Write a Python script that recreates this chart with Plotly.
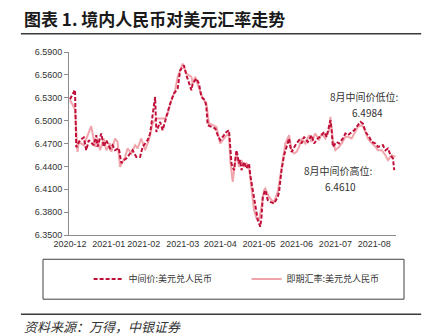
import plotly.graph_objects as go

# ---- data ----
cp_dates = ["2020-12-31","2021-01-04","2021-01-05","2021-01-08","2021-01-11","2021-01-13","2021-01-15","2021-01-19",
"2021-01-21","2021-01-22","2021-01-25","2021-01-27","2021-01-29","2021-02-01","2021-02-03","2021-02-05","2021-02-08",
"2021-02-10","2021-02-12","2021-02-14","2021-02-17","2021-02-19","2021-02-22","2021-02-25","2021-02-27","2021-03-03",
"2021-03-05","2021-03-09","2021-03-10","2021-03-13","2021-03-15","2021-03-18","2021-03-21","2021-03-24","2021-03-27",
"2021-03-29","2021-04-01","2021-04-03","2021-04-06","2021-04-07","2021-04-08","2021-04-11","2021-04-13","2021-04-15",
"2021-04-18","2021-04-19","2021-04-20","2021-04-23","2021-04-26","2021-04-28","2021-04-30","2021-05-03","2021-05-05",
"2021-05-07","2021-05-08","2021-05-09","2021-05-11","2021-05-13","2021-05-15","2021-05-16","2021-05-17","2021-05-19",
"2021-05-21","2021-05-23","2021-05-24","2021-05-26","2021-05-28","2021-05-30","2021-06-01","2021-06-02","2021-06-03",
"2021-06-05","2021-06-07","2021-06-09","2021-06-12","2021-06-15","2021-06-16","2021-06-18","2021-06-20","2021-06-22",
"2021-06-24","2021-06-25","2021-06-26","2021-06-29","2021-07-02","2021-07-04","2021-07-06","2021-07-09","2021-07-12",
"2021-07-14","2021-07-17","2021-07-20","2021-07-22","2021-07-24","2021-07-27","2021-07-28","2021-07-29","2021-08-01",
"2021-08-03","2021-08-06","2021-08-08","2021-08-10","2021-08-13","2021-08-15","2021-08-18","2021-08-20","2021-08-22",
"2021-08-24","2021-08-27","2021-08-29","2021-09-01","2021-09-03","2021-09-07","2021-09-09","2021-09-11","2021-09-13",
"2021-09-15","2021-09-16"]
cp_values = [6.5280,6.5405,6.4650,6.4743,6.4779,6.4612,6.4743,6.4678,
6.4809,6.4656,6.4831,6.4656,6.4743,6.4635,6.4678,6.4612,6.4638,
6.4442,6.4481,6.4503,6.4569,6.4612,6.4524,6.4524,6.4656,6.4743,
6.4831,6.5310,6.4852,6.4983,6.4874,6.5049,6.5224,6.5355,6.5420,
6.5660,6.5726,6.5595,6.5442,6.5398,6.5486,6.5552,6.5486,6.5310,
6.5267,6.5159,6.4940,6.4918,6.4897,6.4809,6.4743,6.4809,6.4852,
6.4874,6.4700,6.4438,6.4350,6.4612,6.4438,6.4481,6.4350,6.4459,
6.4372,6.4438,6.4285,6.4088,6.3870,6.3695,6.3608,6.3739,6.4000,
6.4088,6.3957,6.3935,6.3914,6.4000,6.4066,6.4350,6.4547,6.4656,
6.4766,6.4656,6.4590,6.4678,6.4743,6.4700,6.4787,6.4721,6.4809,
6.4700,6.4766,6.4809,6.4852,6.4787,6.5005,6.4874,6.4656,6.4721,
6.4700,6.4766,6.4831,6.4809,6.4852,6.4874,6.4940,6.4983,6.4962,
6.4852,6.4787,6.4721,6.4700,6.4656,6.4678,6.4612,6.4635,6.4547,
6.4504,6.4350]

spot_dates = ["2020-12-31","2021-01-04","2021-01-06","2021-01-07","2021-01-11","2021-01-13","2021-01-17","2021-01-20",
"2021-01-22","2021-01-24","2021-01-27","2021-01-29","2021-02-01","2021-02-02","2021-02-05","2021-02-07","2021-02-09",
"2021-02-13","2021-02-15","2021-02-18","2021-02-21","2021-02-23","2021-02-26","2021-03-01","2021-03-04","2021-03-07",
"2021-03-10","2021-03-14","2021-03-17","2021-03-19","2021-03-22","2021-03-25","2021-03-27","2021-03-31","2021-04-03",
"2021-04-07","2021-04-08","2021-04-10","2021-04-13","2021-04-16","2021-04-19","2021-04-21","2021-04-24","2021-04-27",
"2021-04-30","2021-05-04","2021-05-07","2021-05-08","2021-05-10","2021-05-12","2021-05-13","2021-05-15","2021-05-17",
"2021-05-19","2021-05-21","2021-05-23","2021-05-25","2021-05-27","2021-05-29","2021-05-31","2021-06-02","2021-06-04",
"2021-06-05","2021-06-08","2021-06-10","2021-06-12","2021-06-15","2021-06-17","2021-06-19","2021-06-21","2021-06-24",
"2021-06-26","2021-06-28","2021-06-30","2021-07-02","2021-07-04","2021-07-07","2021-07-10","2021-07-12","2021-07-15",
"2021-07-18","2021-07-20","2021-07-23","2021-07-26","2021-07-27","2021-07-29","2021-07-31","2021-08-03","2021-08-05",
"2021-08-08","2021-08-10","2021-08-13","2021-08-15","2021-08-18","2021-08-21","2021-08-23","2021-08-26","2021-08-28",
"2021-09-01","2021-09-03","2021-09-06","2021-09-09","2021-09-11","2021-09-14","2021-09-17"]
spot_values = [6.5270,6.5150,6.4590,6.4720,6.4678,6.4770,6.4927,6.4656,
6.4766,6.4612,6.4766,6.4612,6.4700,6.4590,6.4766,6.4721,6.4393,
6.4525,6.4635,6.4569,6.4678,6.4635,6.4766,6.4612,6.4743,6.4962,
6.5028,6.5028,6.5028,6.5093,6.5267,6.5398,6.5573,6.5748,6.5617,
6.5573,6.5486,6.5573,6.5420,6.5290,6.5224,6.4962,6.4940,6.4918,
6.4700,6.4787,6.4831,6.4481,6.4197,6.4525,6.4590,6.4393,6.4481,
6.4393,6.4438,6.4393,6.4131,6.3826,6.3717,6.3695,6.3870,6.4088,
6.4110,6.4000,6.3957,6.3935,6.4066,6.4307,6.4481,6.4700,6.4809,
6.4612,6.4569,6.4590,6.4656,6.4766,6.4700,6.4809,6.4721,6.4831,
6.4743,6.4831,6.4766,6.4874,6.5049,6.4743,6.4612,6.4656,6.4700,
6.4787,6.4787,6.4766,6.4831,6.4918,6.4940,6.4897,6.4766,6.4721,
6.4656,6.4612,6.4612,6.4547,6.4481,6.4547,6.4525]

tick_dates = ["2020-12-31","2021-01-31","2021-02-28","2021-03-31","2021-04-30",
              "2021-05-31","2021-06-30","2021-07-31","2021-08-31"]
tick_labels = ["2020-12","2021-01","2021-02","2021-03","2021-04",
               "2021-05","2021-06","2021-07","2021-08"]
y_ticks = [6.35, 6.38, 6.41, 6.44, 6.47, 6.50, 6.53, 6.56, 6.59]

name_cp = "中间价:美元兑人民币"
name_spot = "即期汇率:美元兑人民币"
title_text = "图表 1. 境内人民币对美元汇率走势"
source_text = "资料来源：万得，中银证券"

CJK = "Noto Sans CJK SC, Noto Sans, sans-serif"
NARROW = "Liberation Sans Narrow, Arial Narrow, Liberation Sans, sans-serif"

fig = go.Figure()
fig.add_trace(go.Scatter(x=spot_dates, y=spot_values, mode="lines", name=name_spot,
                         line=dict(color="#F0A4AB", width=2), legendrank=2))
fig.add_trace(go.Scatter(x=cp_dates, y=cp_values, mode="lines", name=name_cp,
                         line=dict(color="#C0103A", width=2, dash="4px,2px"), legendrank=1))

fig.update_layout(
    width=430, height=336,
    margin=dict(l=69, r=34, t=52, b=101),
    paper_bgcolor="white", plot_bgcolor="white",
    showlegend=True,
    legend=dict(orientation="h", x=0.06, y=-0.24, xanchor="left", yanchor="middle",
                entrywidth=113, entrywidthmode="pixels",
                font=dict(family=CJK, size=9, color="#333333"),
                bgcolor="rgba(0,0,0,0)", borderwidth=0),
    xaxis=dict(type="date", range=["2020-12-30 05:00", "2021-09-17 10:00"],
               tickvals=tick_dates, ticktext=tick_labels, showgrid=False, tickangle=0,
               showline=True, linecolor="#8C8C8C", linewidth=1, ticks="",
               tickfont=dict(family=NARROW, size=9, color="#333333"), zeroline=False),
    yaxis=dict(range=[6.35, 6.59], tickvals=y_ticks, tickformat=".4f", showgrid=False,
               showline=True, linecolor="#8C8C8C", linewidth=1, ticks="outside",
               ticklen=4, tickcolor="#8C8C8C",
               tickfont=dict(family=NARROW, size=9, color="#333333"), zeroline=False),
    shapes=[
        dict(type="line", xref="paper", yref="paper", x0=-0.147, x1=1.077, y0=1.0993, y1=1.0993,
             line=dict(color="#3A3A3A", width=1.5)),
        dict(type="line", xref="paper", yref="paper", x0=-0.147, x1=1.077, y0=-0.4326, y1=-0.4326,
             line=dict(color="#3A3A3A", width=1.5)),
        dict(type="rect", xref="paper", yref="paper", x0=-0.0795, x1=1.0245, y0=-0.3508, y1=-0.1326,
             line=dict(color="#404040", width=1), fillcolor="rgba(0,0,0,0)"),
    ],
    annotations=[
        dict(text="<b>" + title_text + "</b>", xref="paper", yref="paper", x=-0.1437, y=1.1838,
             xanchor="left", yanchor="middle", showarrow=False,
             font=dict(family=CJK, size=17, color="#1A1A1A")),
        dict(text=source_text, xref="paper", yref="paper", x=-0.1437, y=-0.4985,
             xanchor="left", yanchor="middle", showarrow=False,
             font=dict(family=CJK, size=13, color="#333333", style="italic")),
        dict(text="8月中间价低位:", xref="paper", yref="paper", x=0.905, y=0.758,
             xanchor="center", yanchor="middle", showarrow=False,
             font=dict(family=CJK, size=10, color="#333333")),
        dict(text="6.4984", xref="paper", yref="paper", x=0.914, y=0.667,
             xanchor="center", yanchor="middle", showarrow=False,
             font=dict(family=CJK, size=10, color="#333333")),
        dict(text="8月中间价高位:", xref="paper", yref="paper", x=0.823, y=0.355,
             xanchor="center", yanchor="middle", showarrow=False,
             font=dict(family=CJK, size=10, color="#333333")),
        dict(text="6.4610", xref="paper", yref="paper", x=0.829, y=0.267,
             xanchor="center", yanchor="middle", showarrow=False,
             font=dict(family=CJK, size=10, color="#333333")),
    ],
)

fig.write_html("out.html")
